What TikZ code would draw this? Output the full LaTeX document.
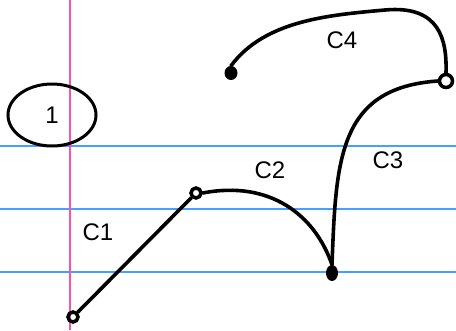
\documentclass[tikz,border=0pt]{standalone}
\usepackage{fontspec}
\setsansfont{Liberation Sans}
\usetikzlibrary{shapes.geometric}
\definecolor{margin}{RGB}{255,80,170}
\definecolor{rule}{RGB}{70,160,255}
\begin{document}
\begin{tikzpicture}[x=1pt, y=-1pt,
      curve/.style={line width=3.6pt, line cap=round},           % hand drawn strokes
      knot/.style={draw, circle, line width=3.5pt, inner sep=0pt,
                   minimum size=10pt},                            % open end point
      blob/.style={fill, ellipse, inner sep=0pt, minimum width=12pt,
                   minimum height=16pt},                          % filled end point
      tag/.style={font=\sffamily\fontsize{24}{24}\selectfont}]   % curve names
    \useasboundingbox (0,0) rectangle (456,330);
    % ruled paper
    \foreach \y in {146,209,272}
      \draw[rule, line width=1.2pt] (0,\y) -- (456,\y);
    \draw[margin, line width=1.5pt] (70,0) -- (70,330);
    % the circled number
    \node[draw, ellipse, line width=3pt, minimum width=88pt,
          minimum height=62pt, tag] (one) at (52,115) {1};
    % end points
    \node[knot]                 (a) at (73,317) {};
    \node[knot]                 (b) at (196,193) {};
    \node[blob]                 (c) at (332,273) {};
    \node[knot, minimum height=13pt, minimum width=9pt] (d) at (446,81) {};
    \node[blob, minimum width=13pt, minimum height=14pt] (e) at (231,73) {};
    % curves
    \draw[curve] (a) -- (b);
    \draw[curve] (b.east) .. controls (270,180) and (315,215) .. (c.north);
    \draw[curve] (c.north) .. controls (336,160) and (338,88) .. (d.west);
    \draw[curve] (e.north) .. controls (265,20) and (330,15) .. (385,10)
                 .. controls (440,5) and (447,40) .. (d.north);
    % names
    \node[tag] (n1) at (98,232) {C1};
    \node[tag] (n2) at (270,170) {C2};
    \node[tag] (n3) at (388,160) {C3};
    \node[tag] (n4) at (342,40) {C4};
  \end{tikzpicture}
\end{document}
